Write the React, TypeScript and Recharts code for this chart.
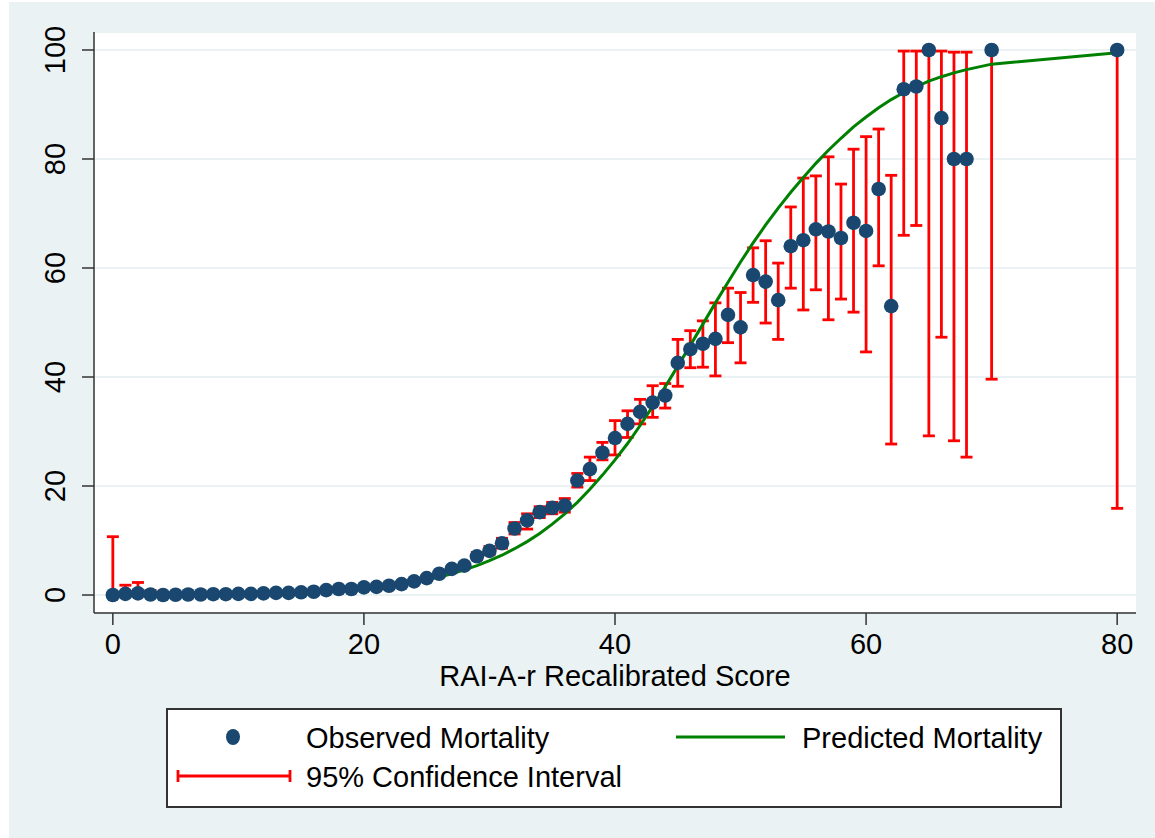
import React from "react";
import {
  ComposedChart,
  Line,
  Scatter,
  ErrorBar,
  XAxis,
  YAxis,
  CartesianGrid,
} from "recharts";

// RAI-A-r recalibrated score (69 is absent in the data)
const scores = [
  0, 1, 2, 3, 4, 5, 6, 7, 8, 9,
  10, 11, 12, 13, 14, 15, 16, 17, 18, 19,
  20, 21, 22, 23, 24, 25, 26, 27, 28, 29,
  30, 31, 32, 33, 34, 35, 36, 37, 38, 39,
  40, 41, 42, 43, 44, 45, 46, 47, 48, 49,
  50, 51, 52, 53, 54, 55, 56, 57, 58, 59,
  60, 61, 62, 63, 64, 65, 66, 67, 68,
  70, 80,
];

// observed mortality, %
const observed = [
  0, 0.2, 0.3, 0.1, 0, 0.05, 0.1, 0.1, 0.15, 0.15,
  0.2, 0.2, 0.3, 0.4, 0.4, 0.5, 0.6, 0.9, 1.1, 1.1,
  1.4, 1.5, 1.7, 2.0, 2.5, 3.1, 3.9, 4.8, 5.4, 7.1,
  8.1, 9.5, 12.2, 13.7, 15.2, 16.0, 16.4, 21.0, 23.1, 26.1,
  28.8, 31.4, 33.6, 35.3, 36.6, 42.6, 45.1, 46.1, 47.0, 51.4,
  49.1, 58.7, 57.5, 54.1, 64.0, 65.1, 67.1, 66.7, 65.5, 68.3,
  66.8, 74.5, 53.0, 92.8, 93.3, 100, 87.5, 80, 80,
  100, 100,
];

// 95% confidence interval bounds
const ciLower = [
  0, 0, 0, 0, 0, 0, 0, 0, 0, 0.05,
  0.1, 0.1, 0.15, 0.25, 0.25, 0.35, 0.45, 0.7, 0.9, 0.9,
  1.2, 1.3, 1.5, 1.8, 2.2, 2.8, 3.5, 4.3, 4.9, 6.5,
  7.4, 8.6, 11.2, 12.1, 14.2, 14.9, 15.2, 19.8, 21.0, 24.8,
  25.7, 28.9, 31.4, 32.6, 34.3, 38.3, 41.7, 41.8, 40.2, 46.3,
  42.6, 53.7, 49.9, 46.9, 56.3, 52.3, 56.0, 50.5, 54.3, 51.9,
  44.6, 60.4, 27.7, 66.0, 67.8, 29.2, 47.3, 28.3, 25.3,
  39.6, 15.9,
];
const ciUpper = [
  10.7, 1.8, 2.3, 0.8, 0.2, 0.2, 0.3, 0.3, 0.35, 0.3,
  0.35, 0.35, 0.45, 0.55, 0.55, 0.65, 0.8, 1.1, 1.3, 1.3,
  1.6, 1.7, 1.9, 2.2, 2.8, 3.4, 4.3, 5.3, 5.9, 7.8,
  8.9, 10.4, 13.3, 14.9, 16.2, 17.0, 17.7, 22.3, 25.3, 28.0,
  32.0, 33.8, 35.9, 38.4, 38.8, 46.9, 48.5, 50.3, 53.6, 56.3,
  55.5, 63.7, 65.0, 60.9, 71.2, 76.5, 76.9, 80.4, 75.4, 81.8,
  84.1, 85.5, 77.0, 99.8, 99.8, 100, 99.8, 99.6, 99.6,
  100, 100,
];

// predicted mortality, %
const predicted = [
  0.03, 0.04, 0.05, 0.06, 0.07, 0.08, 0.1, 0.12, 0.14, 0.17,
  0.2, 0.25, 0.3, 0.35, 0.4, 0.5, 0.6, 0.7, 0.85, 1.0,
  1.2, 1.4, 1.7, 2.0, 2.4, 2.8, 3.3, 3.9, 4.6, 5.4,
  6.3, 7.3, 8.5, 9.8, 11.3, 13.0, 14.9, 17.0, 19.4, 22.0,
  24.8, 27.8, 31.1, 34.6, 38.2, 42.0, 45.8, 49.7, 53.6, 57.4,
  61.1, 64.6, 67.9, 71.0, 73.9, 76.6, 79.2, 81.6, 83.8, 85.9,
  87.7, 89.4, 90.9, 92.2, 93.3, 94.3, 95.1, 95.8, 96.4,
  97.4, 99.5,
];

const xTicks = [0, 20, 40, 60, 80];
const yTicks = [0, 20, 40, 60, 80, 100];

const data = scores.map((x, i) => ({
  x,
  obs: observed[i],
  lo: ciLower[i],
  hi: ciUpper[i],
  pred: predicted[i],
}));

const FONT = '"Liberation Sans", Arial, Helvetica, sans-serif';
const BG = "#EAF2F3";
const NAVY = "#1A476F";
const RED = "#FF0000";
const GREEN = "#008000";
const AXIS = "#333333";
const FS = 29;

const YTick = (props: any) => {
  const { x, y, payload } = props;
  return (
    <text
      x={x}
      y={y}
      transform={`rotate(-90 ${x} ${y})`}
      textAnchor="middle"
      fontSize={FS}
      fontFamily={FONT}
      fill="#000"
    >
      {payload.value}
    </text>
  );
};

const Dot = (props: any) => (
  <circle cx={props.cx} cy={props.cy} r={7.3} fill={NAVY} />
);

const Nothing = () => <g />;

function LegendBox() {
  const text = { fontSize: FS, fontFamily: FONT, fill: "#000" };
  return (
    <svg
      width={896}
      height={100}
      style={{ position: "absolute", left: 157, top: 706 }}
    >
      <rect x={1} y={1} width={894} height={98} fill="#fff" stroke={AXIS} strokeWidth={2} />
      <ellipse cx={67} cy={29} rx={7} ry={8} fill={NAVY} />
      <text x={140} y={40} {...text}>Observed Mortality</text>
      <line x1={510} y1={29} x2={619} y2={29} stroke={GREEN} strokeWidth={3} />
      <text x={636} y={40} {...text}>Predicted Mortality</text>
      <line x1={12} y1={68} x2={124} y2={68} stroke={RED} strokeWidth={2.8} />
      <line x1={12} y1={62} x2={12} y2={74} stroke={RED} strokeWidth={2.8} />
      <line x1={124} y1={62} x2={124} y2={74} stroke={RED} strokeWidth={2.8} />
      <text x={140} y={79} {...text}>95% Confidence Interval</text>
    </svg>
  );
}

export default function App() {
  return (
    <div
      style={{
        position: "absolute",
        left: 9,
        top: 2,
        width: 1146,
        height: 836,
        background: BG,
      }}
    >
      <ComposedChart
        width={1146}
        height={836}
        data={data}
        margin={{ top: 30, right: 19, bottom: 149, left: 0 }}
      >
        <CartesianGrid
          vertical={false}
          fill="#fff"
          fillOpacity={1}
          stroke={BG}
          strokeWidth={2}
        />
        <XAxis
          dataKey="x"
          type="number"
          domain={[-1.5, 81.5]}
          ticks={xTicks}
          height={76}
          tickSize={12}
          tickMargin={8}
          axisLine={{ stroke: AXIS, strokeWidth: 1.5 }}
          tickLine={{ stroke: AXIS, strokeWidth: 1.5 }}
          tick={{ fontSize: FS, fontFamily: FONT, fill: "#000" }}
          label={{
            value: "RAI-A-r Recalibrated Score",
            position: "insideBottom",
            offset: 3,
            fontSize: FS,
            fontFamily: FONT,
            fill: "#000",
          }}
        />
        <YAxis
          type="number"
          domain={[-3.3, 103.3]}
          ticks={yTicks}
          width={85}
          tickSize={12}
          tickMargin={17}
          axisLine={{ stroke: AXIS, strokeWidth: 1.5 }}
          tickLine={{ stroke: AXIS, strokeWidth: 1.5 }}
          tick={<YTick />}
        />
        <Scatter dataKey="obs" shape={<Dot />} isAnimationActive={false} />
        <Scatter dataKey="obs" shape={<Nothing />} isAnimationActive={false}>
          <ErrorBar
            dataKey={(d: any) => [d.obs - d.lo, d.hi - d.obs]}
            direction="y"
            width={6}
            stroke={RED}
            strokeWidth={2.8}
            isAnimationActive={false}
          />
        </Scatter>
        <Line
          dataKey="pred"
          type="linear"
          stroke={GREEN}
          strokeWidth={3}
          dot={false}
          activeDot={false}
          isAnimationActive={false}
        />
      </ComposedChart>
      <LegendBox />
    </div>
  );
}
